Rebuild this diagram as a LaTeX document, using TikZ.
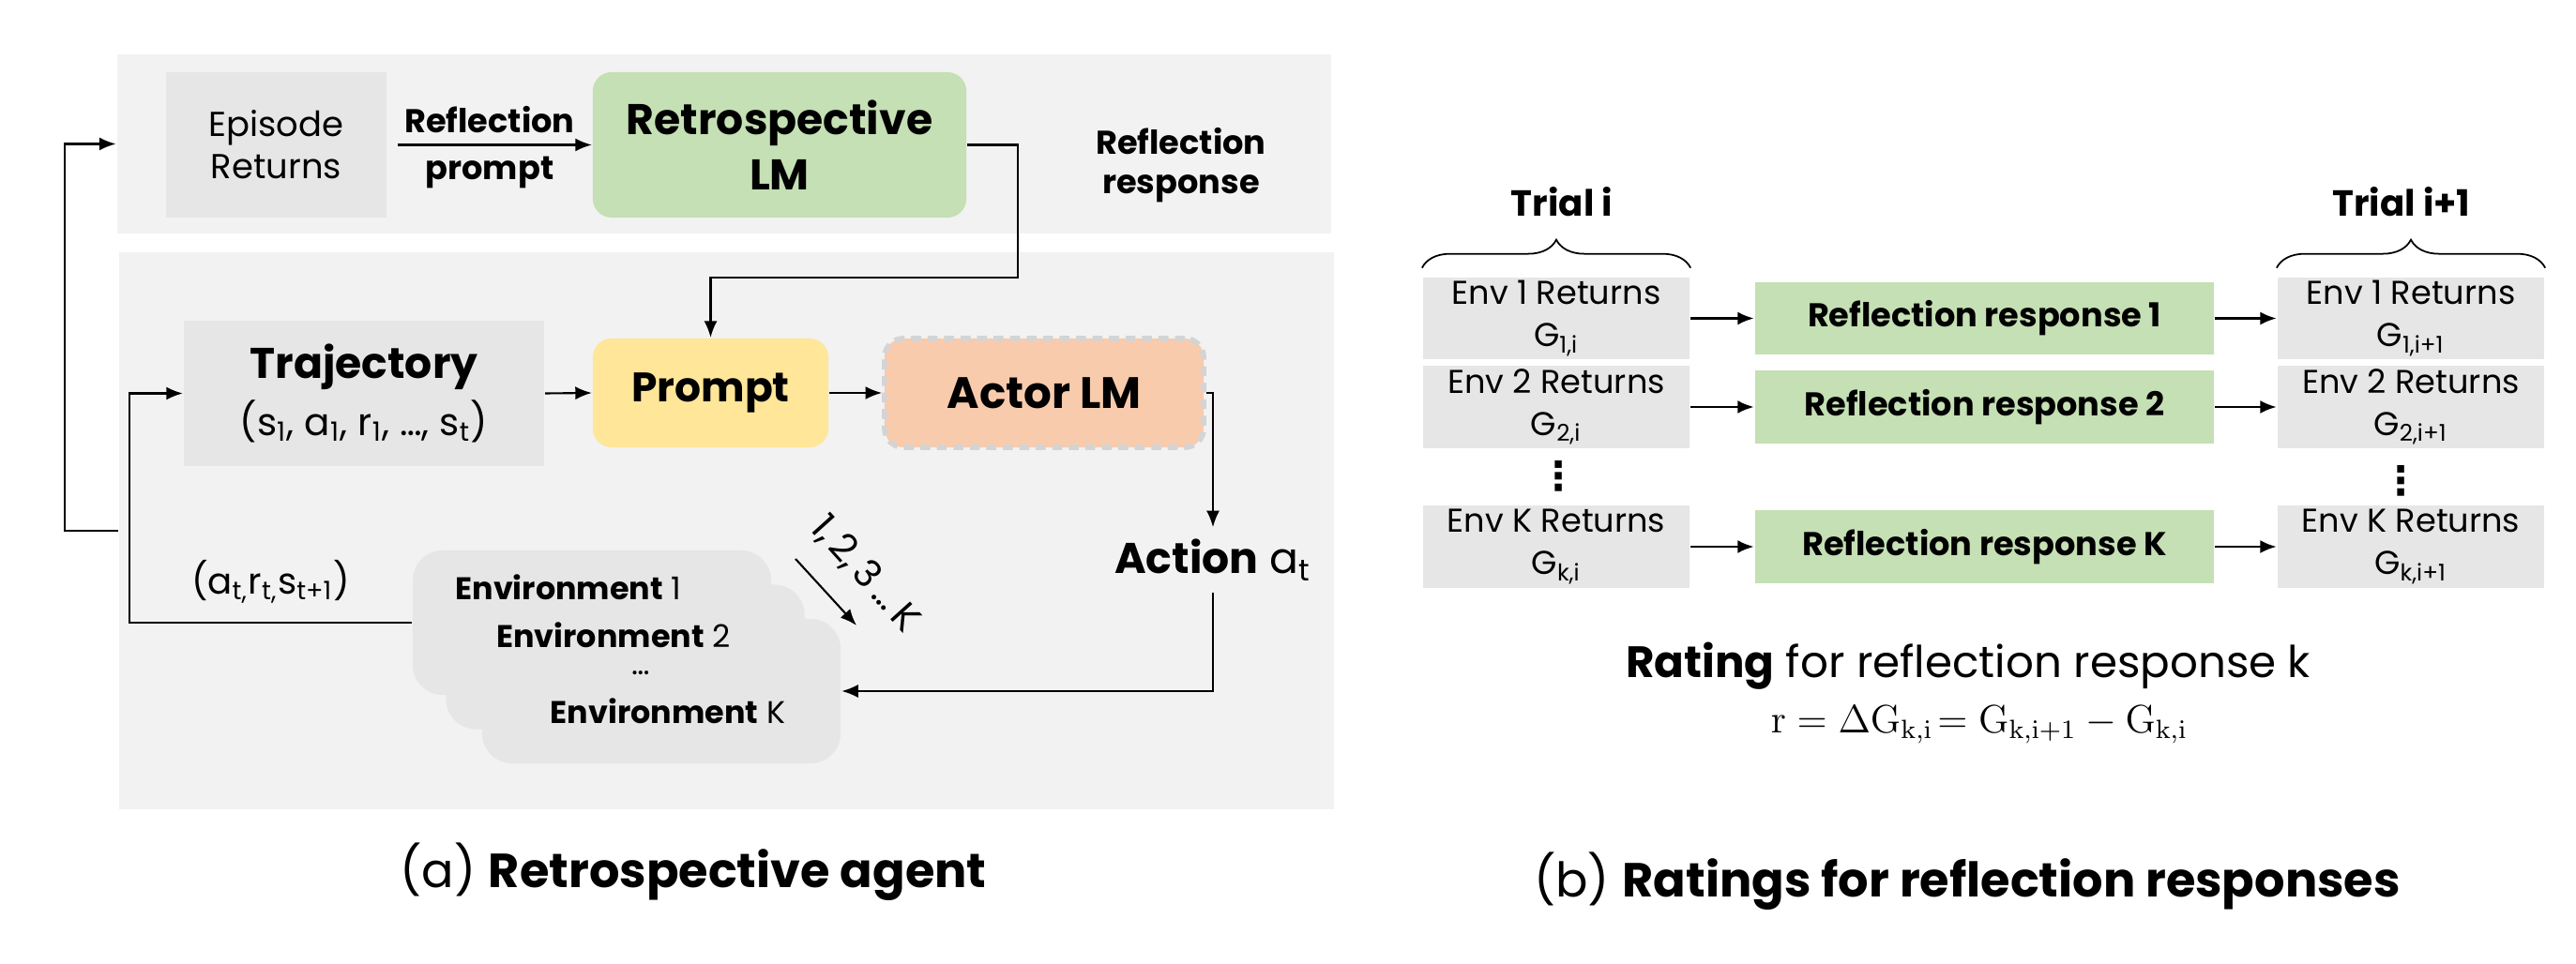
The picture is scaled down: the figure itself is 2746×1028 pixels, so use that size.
\documentclass[tikz,border=0pt]{standalone}
\usepackage[no-math]{fontspec}
\setmainfont{Poppins}
\newfontfamily\symfont{DejaVu Sans}
\usepackage{amsmath}
\usetikzlibrary{positioning, arrows.meta, decorations.pathreplacing}
\definecolor{panelgray}{HTML}{F2F2F2}
\definecolor{boxgray}{HTML}{E6E6E6}
\definecolor{retrogreen}{HTML}{C5E0B4}
\definecolor{promptyellow}{HTML}{FFE699}
\definecolor{actororange}{HTML}{F8CBAD}
\definecolor{dashgray}{HTML}{D4D4D4}
\tikzset{>={Latex[length=5pt,width=4pt]}}

\begin{document}
\begin{tikzpicture}[x=0.01cm, y=-0.01cm, line width=0.6pt,
    panel/.style={fill=panelgray, inner sep=0pt},
    graybox/.style={fill=boxgray, inner sep=0pt, align=center},
    roundbox/.style={rounded corners=0.2cm, inner sep=0pt, align=center},
    envbox/.style={fill=boxgray, rounded corners=0.32cm, minimum width=3.82cm, minimum height=1.54cm, inner sep=0pt},
    envtext/.style={font=\fontsize{9.5}{11}\selectfont, inner sep=1pt},
    retbox/.style={graybox, minimum width=2.84cm, minimum height=0.875cm, font=\fontsize{10}{12.8}\selectfont},
    respbox/.style={fill=retrogreen, minimum width=4.89cm, minimum height=0.77cm, font=\fontsize{10}{12}\selectfont\bfseries},
    vdots/.style={font=\fontsize{12}{13}\symfont\bfseries, inner sep=0pt},
    trial/.style={font=\fontsize{11}{13}\selectfont\bfseries},
    caption/.style={font=\fontsize{14.5}{17}\selectfont},
    brace/.style={decorate, decoration={brace, amplitude=0.3cm}, line width=0.5pt}]
    \useasboundingbox (0,0) rectangle (2746,1028);

    % (a) retrospective agent
    \node[panel, minimum width=12.94cm, minimum height=1.91cm] (toppanel) at (772,153.5) {};
    \node[panel, minimum width=12.95cm, minimum height=5.94cm] (botpanel) at (774.5,566) {};

    \node[graybox, minimum width=2.35cm, minimum height=1.55cm, font=\fontsize{10.5}{12.8}\selectfont] (episode) at (294.5,154.5) {Episode\\Returns};
    \node[roundbox, fill=retrogreen, minimum width=3.98cm, minimum height=1.55cm, font=\fontsize{13}{16.8}\selectfont\bfseries] (retro) at (831,154.5) {Retrospective\\LM};
    \node[align=center, font=\fontsize{10}{11.8}\selectfont\bfseries] (reflresp) at (1259,176) {Reflection\\response};

    \node[graybox, minimum width=3.84cm, minimum height=1.55cm] (traj) at (388,419.5)
        {{\fontsize{13}{15}\selectfont\bfseries Trajectory}\\[2pt]
         {\fontsize{11.5}{13}\selectfont (s\textsubscript{1}, a\textsubscript{1}, r\textsubscript{1}, \ldots, s\textsubscript{t})}};
    \node[roundbox, fill=promptyellow, minimum width=2.51cm, minimum height=1.16cm, font=\fontsize{12.5}{15}\selectfont\bfseries] (prompt) at (757.5,419) {Prompt};
    \node[roundbox, fill=actororange, draw=dashgray, dashed, dash pattern=on 3pt off 2pt, line width=1.6pt, minimum width=3.40cm, minimum height=1.16cm, font=\fontsize{13.3}{16}\selectfont\bfseries] (actor) at (1113,419) {Actor LM};
    \node[font=\fontsize{13}{16}\selectfont] (action) at (1293,597) {\textbf{Action} a\textsubscript{t}};

    \node[envbox] (env1) at (631,664) {};
    \node[envbox] (env2) at (666.5,700.5) {};
    \node[envbox] (envK) at (705,737) {};
    \node[envtext] (env1lbl) at (606,626) {\textbf{Environment} 1};
    \node[envtext] (env2lbl) at (654,677) {\textbf{Environment} 2};
    \node[envtext] (envdots) at (683,718) {\ldots};
    \node[envtext] (envKlbl) at (712,758) {\textbf{Environment} K};

    \coordinate (kfrom) at (848,596);
    \coordinate (kto) at (913,667);
    \draw[->] (kfrom) -- (kto);
    \node[rotate=-48, font=\fontsize{11.5}{13}\selectfont, inner sep=1pt] (klbl) at (922,612) {1,\,2,\,3\,\ldots\,K};

    \coordinate (retroturn) at (1085,296);
    \draw[->, shorten <=0.11cm] (episode.east) -- node[above, font=\fontsize{10}{12}\selectfont\bfseries] (rp1) {Reflection}
        node[below, font=\fontsize{10}{12}\selectfont\bfseries] (rp2) {prompt} (retro.west);
    \draw[->] (retro.east) -| (retroturn) -| (prompt.north);
    \draw[->] (botpanel.west) -- ++(-57,0) |- (toppanel.west);
    \draw[->] (env1.west) -- node[above, yshift=0.08cm, font=\fontsize{11}{13}\selectfont] (obs)
        {(a\textsubscript{t,}r\textsubscript{t,}s\textsubscript{t+1})} ++(-301,0) |- (traj.west);
    \draw[->] (traj.east) -- (prompt.west);
    \draw[->] (prompt.east) -- (actor.west);
    \draw[->] (actor.east) -| (action.north);
    \draw[->] (action.south) |- (envK.east);

    \node[caption] (capa) at (739,930) {(a) \textbf{Retrospective agent}};

    % (b) ratings
    \foreach \k/\s/\row in {1/1/339.5, 2/2/434, K/k/583} {
        \node[retbox] (ret\k) at (1659,\row) {Env \k{} Returns\\G\textsubscript{\s,i}};
        \node[respbox] (resp\k) at (2115.5,\row) {Reflection response \k};
        \node[retbox] (nxt\k) at (2570,\row) {Env \k{} Returns\\G\textsubscript{\s,i+1}};
        \draw[->, line width=0.8pt] (ret\k) -- (resp\k);
        \draw[->, line width=0.8pt] (resp\k) -- (nxt\k);
    }
    \node[vdots] (dotsL) at (1662,508) {⋮};
    \node[vdots] (dotsR) at (2560,513) {⋮};

    \node[trial] (triali) at (1665,215) {Trial i};
    \node[trial] (trialnext) at (2560,215) {Trial i+1};
    \draw[brace] ([yshift=0.09cm]ret1.north west) -- ([yshift=0.09cm]ret1.north east);
    \draw[brace] ([yshift=0.09cm]nxt1.north west) -- ([yshift=0.09cm]nxt1.north east);

    \node[font=\fontsize{13.3}{16}\selectfont] (rating) at (2098,710) {\textbf{Rating} for reflection response k};
    \node[font=\fontsize{11.5}{13}\selectfont] (formula) at (2110,773)
        {$\mathrm{r} = \Delta\mathrm{G}_{\mathrm{k,i}}\!= \mathrm{G}_{\mathrm{k,i+1}} - \mathrm{G}_{\mathrm{k,i}}$};
    \node[caption] (capb) at (2097,940) {(b) \textbf{Ratings for reflection responses}};
\end{tikzpicture}
\end{document}
